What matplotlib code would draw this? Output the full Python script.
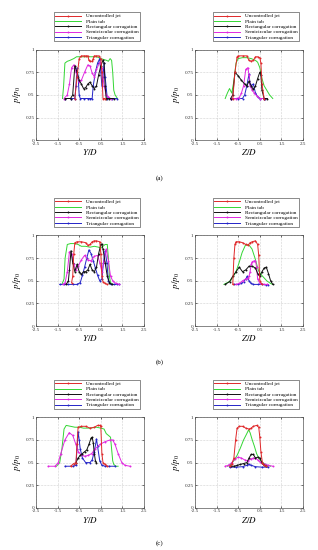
import matplotlib
matplotlib.use('Agg')
import matplotlib.pyplot as plt

plt.rcParams['font.family'] = ['Liberation Serif', 'DejaVu Serif']
plt.rcParams['mathtext.fontset'] = 'stix'

labels = ['Uncontrolled jet', 'Plain tab', 'Rectangular corrugation',
          'Semicircular corrugation', 'Triangular corrugation']
colors = ['#e0282a', '#33d633', '#111111', '#e028e0', '#2424c8']
markers = ['o', None, 'o', 'o', 'o']

xticks = [-2.5, -1.5, -0.5, 0.5, 1.5, 2.5]
xtick_labels = ['-2.5', '-1.5', '-0.5', '0.5', '1.5', '2.5']
yticks = [0, 0.25, 0.5, 0.75, 1]
ytick_labels = ['0', '0.25', '0.5', '0.75', '1']

# (a) Y/D
aL_unc_x = [-0.7, -0.6, -0.5, -0.4, -0.3, -0.2, -0.1, -0.05, 0.0, 0.1, 0.15, 0.2, 0.3, 0.4, 0.5, 0.55, 0.6, 0.7]
aL_unc_y = [0.46, 0.7, 0.9, 0.93, 0.93, 0.93, 0.93, 0.88, 0.87, 0.87, 0.9, 0.93, 0.93, 0.93, 0.9, 0.75, 0.46, 0.46]
aL_tab_x = [-1.27, -1.22, -1.16, -1.05, -0.93, -0.75, -0.62, -0.4, -0.1, 0.1, 0.31, 0.5, 0.77, 0.85, 0.93, 1.0, 1.05, 1.1, 1.16, 1.27]
aL_tab_y = [0.46, 0.6, 0.85, 0.87, 0.88, 0.9, 0.92, 0.92, 0.92, 0.92, 0.92, 0.9, 0.88, 0.87, 0.9, 0.88, 0.75, 0.55, 0.5, 0.46]
aL_rec_x = [-1.15, -0.9, -0.8, -0.7, -0.6, -0.5, -0.4, -0.3, -0.2, -0.1, 0.0, 0.1, 0.2, 0.3, 0.4, 0.5, 0.6, 0.65, 0.7, 0.75, 0.9, 1.1]
aL_rec_y = [0.46, 0.46, 0.5, 0.82, 0.75, 0.66, 0.62, 0.57, 0.58, 0.62, 0.64, 0.6, 0.57, 0.6, 0.72, 0.82, 0.88, 0.85, 0.6, 0.46, 0.46, 0.46]
aL_sem_x = [-1.2, -1.05, -0.95, -0.85, -0.75, -0.65, -0.5, -0.4, -0.25, -0.1, 0.0, 0.1, 0.2, 0.3, 0.45, 0.55, 0.65, 0.75, 0.85, 0.95]
aL_sem_y = [0.46, 0.5, 0.62, 0.8, 0.83, 0.75, 0.64, 0.66, 0.75, 0.83, 0.82, 0.74, 0.7, 0.78, 0.86, 0.8, 0.6, 0.5, 0.48, 0.46]
aL_tri_x = [-1.15, -0.9, -0.7, -0.65, -0.6, -0.55, -0.5, -0.45, -0.3, -0.1, 0.0, 0.1, 0.15, 0.25, 0.35, 0.45, 0.5, 0.55, 0.6, 0.65, 0.7, 0.8, 1.0, 1.25]
aL_tri_y = [0.46, 0.46, 0.46, 0.6, 0.8, 0.7, 0.5, 0.46, 0.46, 0.46, 0.46, 0.46, 0.6, 0.75, 0.85, 0.9, 0.75, 0.6, 0.7, 0.85, 0.7, 0.46, 0.46, 0.46]

# (a) Z/D
aR_unc_x = [-0.75, -0.65, -0.55, -0.5, -0.3, -0.1, 0.0, 0.1, 0.2, 0.3, 0.4, 0.5, 0.55, 0.6, 0.7]
aR_unc_y = [0.46, 0.75, 0.92, 0.93, 0.93, 0.93, 0.88, 0.87, 0.88, 0.92, 0.92, 0.91, 0.85, 0.62, 0.46]
aR_tab_x = [-1.1, -1.0, -0.9, -0.8, -0.7, -0.6, -0.5, -0.3, -0.1, 0.1, 0.3, 0.4, 0.5, 0.6, 0.7, 0.8, 0.95, 1.1]
aR_tab_y = [0.46, 0.52, 0.57, 0.52, 0.65, 0.85, 0.9, 0.91, 0.91, 0.9, 0.88, 0.86, 0.8, 0.68, 0.6, 0.56, 0.5, 0.46]
aR_rec_x = [-0.85, -0.75, -0.65, -0.5, -0.35, -0.2, -0.1, 0.0, 0.1, 0.2, 0.3, 0.4, 0.5, 0.55, 0.6, 0.7, 0.85]
aR_rec_y = [0.46, 0.5, 0.75, 0.71, 0.66, 0.62, 0.6, 0.65, 0.6, 0.56, 0.6, 0.68, 0.75, 0.72, 0.55, 0.46, 0.46]
aR_sem_x = [-0.85, -0.6, -0.45, -0.35, -0.25, -0.15, -0.05, 0.0, 0.05, 0.15, 0.25, 0.35, 0.5, 0.7]
aR_sem_y = [0.46, 0.46, 0.47, 0.52, 0.6, 0.78, 0.8, 0.72, 0.6, 0.55, 0.52, 0.49, 0.46, 0.46]
aR_tri_x = [-0.85, -0.5, -0.3, -0.2, -0.1, 0.0, 0.05, 0.1, 0.2, 0.3, 0.4, 0.5, 0.75]
aR_tri_y = [0.46, 0.46, 0.46, 0.5, 0.6, 0.73, 0.62, 0.6, 0.62, 0.52, 0.48, 0.46, 0.46]

# (b) Y/D
bL_unc_x = [-0.85, -0.8, -0.75, -0.7, -0.6, -0.4, -0.2, -0.1, 0.0, 0.1, 0.2, 0.3, 0.45, 0.5, 0.55, 0.6, 0.7, 0.8]
bL_unc_y = [0.48, 0.55, 0.8, 0.92, 0.93, 0.93, 0.92, 0.89, 0.9, 0.93, 0.94, 0.94, 0.93, 0.8, 0.55, 0.49, 0.47, 0.46]
bL_tab_x = [-1.3, -1.2, -1.15, -1.05, -0.9, -0.7, -0.55, -0.4, -0.2, 0.0, 0.2, 0.4, 0.5, 0.6, 0.7, 0.8, 0.85, 0.9, 0.95, 1.05]
bL_tab_y = [0.46, 0.52, 0.75, 0.9, 0.91, 0.91, 0.9, 0.88, 0.88, 0.87, 0.88, 0.87, 0.86, 0.88, 0.9, 0.9, 0.75, 0.55, 0.48, 0.46]
bL_rec_x = [-1.1, -1.0, -0.95, -0.88, -0.8, -0.7, -0.6, -0.5, -0.4, -0.3, -0.2, -0.1, 0.0, 0.1, 0.2, 0.3, 0.4, 0.5, 0.55, 0.6, 0.7, 0.8, 0.9, 1.0]
bL_rec_y = [0.46, 0.5, 0.62, 0.83, 0.7, 0.6, 0.68, 0.6, 0.57, 0.6, 0.6, 0.62, 0.68, 0.62, 0.6, 0.65, 0.8, 0.9, 0.9, 0.85, 0.7, 0.55, 0.48, 0.46]
bL_sem_x = [-1.25, -1.15, -1.05, -0.95, -0.85, -0.75, -0.65, -0.55, -0.4, -0.25, -0.1, 0.05, 0.2, 0.35, 0.45, 0.55, 0.65, 0.75, 0.85, 0.95, 1.05, 1.2, 1.35]
bL_sem_y = [0.46, 0.48, 0.6, 0.82, 0.8, 0.68, 0.62, 0.66, 0.73, 0.78, 0.73, 0.72, 0.77, 0.78, 0.7, 0.6, 0.72, 0.85, 0.72, 0.55, 0.5, 0.47, 0.46]
bL_tri_x = [-1.4, -1.2, -1.0, -0.8, -0.6, -0.45, -0.35, -0.25, -0.15, -0.05, 0.05, 0.15, 0.25, 0.35, 0.45, 0.55, 0.62, 0.7, 0.78, 0.85, 0.95, 1.1, 1.25, 1.35]
bL_tri_y = [0.46, 0.46, 0.46, 0.46, 0.46, 0.48, 0.56, 0.65, 0.75, 0.84, 0.8, 0.72, 0.64, 0.56, 0.5, 0.52, 0.7, 0.83, 0.7, 0.5, 0.46, 0.46, 0.46, 0.46]

# (b) Z/D
bR_unc_x = [-0.75, -0.7, -0.65, -0.6, -0.45, -0.3, -0.15, -0.05, 0.05, 0.15, 0.3, 0.4, 0.45, 0.5, 0.6]
bR_unc_y = [0.46, 0.75, 0.9, 0.93, 0.93, 0.92, 0.9, 0.89, 0.92, 0.93, 0.94, 0.9, 0.78, 0.5, 0.46]
bR_tab_x = [-1.16, -1.0, -0.85, -0.62, -0.47, -0.32, -0.17, -0.02, 0.14, 0.29, 0.44, 0.59, 0.82, 1.0, 1.1]
bR_tab_y = [0.46, 0.48, 0.5, 0.59, 0.69, 0.81, 0.89, 0.9, 0.85, 0.74, 0.61, 0.56, 0.5, 0.47, 0.46]
bR_rec_x = [-1.1, -0.9, -0.75, -0.6, -0.45, -0.3, -0.15, 0.0, 0.15, 0.3, 0.4, 0.5, 0.6, 0.7, 0.8, 0.9, 1.0, 1.1]
bR_rec_y = [0.46, 0.49, 0.55, 0.6, 0.65, 0.6, 0.62, 0.66, 0.66, 0.64, 0.58, 0.55, 0.6, 0.64, 0.65, 0.58, 0.5, 0.46]
bR_sem_x = [-0.6, -0.45, -0.3, -0.15, -0.05, 0.0, 0.05, 0.1, 0.15, 0.25, 0.3, 0.35, 0.4, 0.5, 0.7, 0.85]
bR_sem_y = [0.46, 0.47, 0.5, 0.52, 0.53, 0.55, 0.6, 0.68, 0.71, 0.72, 0.72, 0.65, 0.52, 0.47, 0.46, 0.46]
bR_tri_x = [-0.7, -0.5, -0.35, -0.25, -0.15, -0.08, 0.0, 0.1, 0.2, 0.4, 0.6, 0.8, 0.9]
bR_tri_y = [0.46, 0.46, 0.47, 0.49, 0.52, 0.55, 0.5, 0.47, 0.46, 0.46, 0.46, 0.455, 0.455]

# (c) Y/D
cL_unc_x = [-0.9, -0.75, -0.65, -0.6, -0.55, -0.4, -0.2, 0.0, 0.2, 0.35, 0.45, 0.5, 0.55, 0.6, 0.7, 0.8]
cL_unc_y = [0.46, 0.49, 0.5, 0.7, 0.89, 0.9, 0.9, 0.88, 0.89, 0.91, 0.91, 0.9, 0.6, 0.5, 0.48, 0.46]
cL_tab_x = [-1.55, -1.4, -1.3, -1.2, -1.1, -0.9, -0.7, -0.5, -0.3, 0.0, 0.3, 0.5, 0.65, 0.75, 0.85, 0.95, 1.0, 1.05, 1.1, 1.2, 1.3]
cL_tab_y = [0.46, 0.5, 0.65, 0.87, 0.91, 0.9, 0.89, 0.89, 0.88, 0.88, 0.89, 0.88, 0.87, 0.82, 0.8, 0.78, 0.65, 0.52, 0.48, 0.46, 0.46]
cL_rec_x = [-0.65, -0.55, -0.45, -0.35, -0.25, -0.15, -0.05, 0.05, 0.1, 0.15, 0.2, 0.25, 0.3]
cL_rec_y = [0.5, 0.55, 0.58, 0.6, 0.62, 0.64, 0.7, 0.77, 0.78, 0.72, 0.6, 0.52, 0.5]
cL_sem_x = [-1.93, -1.62, -1.47, -1.35, -1.16, -0.96, -0.8, -0.65, -0.54, -0.39, -0.23, -0.08, 0.08, 0.23, 0.46, 0.69, 0.93, 1.05, 1.16, 1.3, 1.47, 1.62, 1.85]
cL_sem_y = [0.46, 0.46, 0.5, 0.6, 0.75, 0.83, 0.8, 0.7, 0.62, 0.58, 0.57, 0.58, 0.6, 0.65, 0.7, 0.73, 0.75, 0.75, 0.7, 0.6, 0.5, 0.47, 0.46]
cL_tri_x = [-1.15, -0.8, -0.65, -0.6, -0.55, -0.5, -0.45, -0.35, -0.2, 0.0, 0.1, 0.2, 0.3, 0.35, 0.45, 0.55, 0.7, 0.9, 1.15]
cL_tri_y = [0.46, 0.46, 0.47, 0.65, 0.84, 0.75, 0.65, 0.55, 0.5, 0.5, 0.53, 0.62, 0.76, 0.68, 0.52, 0.47, 0.46, 0.46, 0.46]

# (c) Z/D
cR_unc_x = [-0.9, -0.8, -0.7, -0.62, -0.55, -0.45, -0.3, -0.15, 0.0, 0.1, 0.2, 0.35, 0.45, 0.5, 0.55, 0.62, 0.7, 0.8]
cR_unc_y = [0.46, 0.48, 0.55, 0.75, 0.88, 0.9, 0.9, 0.88, 0.87, 0.88, 0.9, 0.91, 0.89, 0.78, 0.62, 0.5, 0.47, 0.46]
cR_tab_x = [-1.0, -0.85, -0.7, -0.55, -0.4, -0.25, -0.1, -0.02, 0.05, 0.15, 0.25, 0.35, 0.45, 0.55, 0.7, 0.85, 1.0]
cR_tab_y = [0.46, 0.48, 0.52, 0.58, 0.66, 0.75, 0.82, 0.86, 0.83, 0.75, 0.68, 0.6, 0.55, 0.52, 0.49, 0.47, 0.46]
cR_rec_x = [-0.85, -0.7, -0.55, -0.4, -0.25, -0.1, 0.0, 0.1, 0.2, 0.3, 0.4, 0.5, 0.6, 0.7, 0.8]
cR_rec_y = [0.46, 0.46, 0.47, 0.48, 0.49, 0.5, 0.55, 0.59, 0.59, 0.55, 0.56, 0.55, 0.5, 0.47, 0.46]
cR_sem_x = [-1.1, -0.95, -0.8, -0.65, -0.5, -0.35, -0.2, -0.05, 0.1, 0.2, 0.3, 0.4, 0.5, 0.6, 0.75, 0.9, 1.1]
cR_sem_y = [0.46, 0.47, 0.5, 0.54, 0.56, 0.55, 0.53, 0.52, 0.54, 0.55, 0.55, 0.53, 0.51, 0.5, 0.48, 0.47, 0.46]
cR_tri_x = [-0.9, -0.6, -0.3, -0.1, 0.0, 0.1, 0.3, 0.6, 0.9]
cR_tri_y = [0.45, 0.45, 0.455, 0.47, 0.48, 0.47, 0.455, 0.45, 0.45]

panels = [
    ('$Y/D$', [(aL_unc_x, aL_unc_y), (aL_tab_x, aL_tab_y), (aL_rec_x, aL_rec_y), (aL_sem_x, aL_sem_y), (aL_tri_x, aL_tri_y)]),
    ('$Z/D$', [(aR_unc_x, aR_unc_y), (aR_tab_x, aR_tab_y), (aR_rec_x, aR_rec_y), (aR_sem_x, aR_sem_y), (aR_tri_x, aR_tri_y)]),
    ('$Y/D$', [(bL_unc_x, bL_unc_y), (bL_tab_x, bL_tab_y), (bL_rec_x, bL_rec_y), (bL_sem_x, bL_sem_y), (bL_tri_x, bL_tri_y)]),
    ('$Z/D$', [(bR_unc_x, bR_unc_y), (bR_tab_x, bR_tab_y), (bR_rec_x, bR_rec_y), (bR_sem_x, bR_sem_y), (bR_tri_x, bR_tri_y)]),
    ('$Y/D$', [(cL_unc_x, cL_unc_y), (cL_tab_x, cL_tab_y), (cL_rec_x, cL_rec_y), (cL_sem_x, cL_sem_y), (cL_tri_x, cL_tri_y)]),
    ('$Z/D$', [(cR_unc_x, cR_unc_y), (cR_tab_x, cR_tab_y), (cR_rec_x, cR_rec_y), (cR_sem_x, cR_sem_y), (cR_tri_x, cR_tri_y)]),
]

fig = plt.figure(figsize=(3.18, 5.5), dpi=100)

lefts = [0.113, 0.613]
bottoms = [0.745, 0.407, 0.0764]

for i, (xlab, series) in enumerate(panels):
    row, col = i // 2, i % 2
    ax = fig.add_axes([lefts[col], bottoms[row], 0.34, 0.165])
    # draw in reverse so red sits on top like the reference
    for k in [1, 4, 3, 2, 0]:
        xs, ys = series[k]
        ax.plot(xs, ys, color=colors[k], lw=0.7, marker=markers[k], ms=1.4,
                mew=0, label=labels[k])
    ax.set_xlim(-2.5, 2.5)
    ax.set_ylim(0, 1)
    ax.set_xticks(xticks)
    ax.set_xticklabels(xtick_labels)
    ax.set_yticks(yticks)
    ax.set_yticklabels(ytick_labels)
    ax.tick_params(labelsize=3.7, length=1.5, width=0.4, pad=1, direction='in',
                   top=True, right=True, labelcolor='#333333')
    ax.grid(True, ls=':', lw=0.4, color='#aaaaaa')
    for s in ax.spines.values():
        s.set_linewidth(0.5)
        s.set_color('#555555')
    ax.set_xlabel(xlab, fontsize=6.5, labelpad=1)
    ax.set_ylabel('$p/p_0$', fontsize=6.5, labelpad=2)
    handles, labs = ax.get_legend_handles_labels()
    order = [labs.index(l) for l in labels]
    ax.legend([handles[j] for j in order], labels, loc='lower right',
              bbox_to_anchor=(0.963, 1.09), fontsize=3.8, frameon=True,
              fancybox=False, edgecolor='#333333', framealpha=1,
              handlelength=5.0, handletextpad=0.8, borderpad=0.3,
              labelspacing=0.12, borderaxespad=0).get_frame().set_linewidth(0.4)

fig.text(0.503, 0.676, '(a)', fontsize=5, ha='center', va='center')
fig.text(0.503, 0.342, '(b)', fontsize=5, ha='center', va='center')
fig.text(0.503, 0.013, '(c)', fontsize=5, ha='center', va='center')

fig.savefig('out.png', dpi=100)
